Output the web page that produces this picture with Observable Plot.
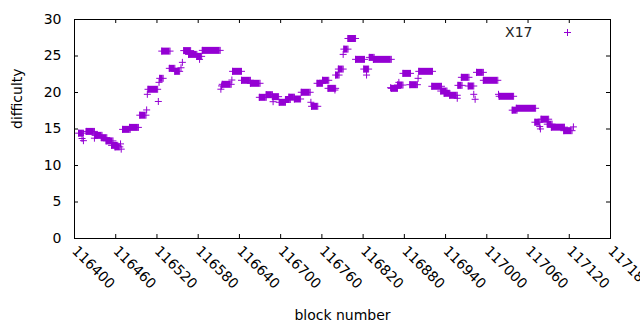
<!DOCTYPE html>
<html>
<head>
<meta charset="utf-8">
<script src="https://cdn.jsdelivr.net/npm/d3@7"></script>
<script src="https://cdn.jsdelivr.net/npm/@observablehq/plot@0.6"></script>
<style>
  html, body { margin: 0; padding: 0; background: #fff; }
  svg { display: block; }
</style>
</head>
<body>
<div id="chart"></div>
<script>
// Runs of constant difficulty (block range and value); singles have start == end
const runStart = [116406,116411,116413,116417,116429,116430,116439,116446,116454,116459,116467,116468,116470,116480,116495,116505,116506,116507,116522,116523,116524,116527,116538,116546,116555,116557,116559,116566,116578,116582,116586,116613,116614,116615,116629,116630,116643,116656,116669,116679,116688,116689,116698,116707,116712,116720,116730,116744,116745,116753,116761,116769,116779,116780,116784,116791,116792,116798,116809,116821,116825,116829,116835,116860,116861,116870,116872,116878,116888,116900,116901,116920,116933,116938,116946,116957,116958,116963,116973,116981,116983,116985,116995,117017,117018,117037,117043,117070,117077,117078,117079,117088,117094,117112,117126];
const runEnd   = [116413,116411,116413,116429,116429,116440,116447,116456,116463,116466,116467,116468,116481,116493,116504,116505,116506,116521,116522,116523,116529,116539,116546,116553,116555,116557,116569,116578,116585,116582,116612,116613,116614,116628,116629,116643,116656,116670,116679,116688,116697,116689,116707,116714,116720,116729,116743,116744,116754,116761,116770,116780,116779,116785,116791,116791,116798,116809,116822,116828,116825,116836,116861,116860,116870,116878,116872,116889,116899,116900,116921,116934,116942,116946,116957,116957,116964,116974,116981,116981,116983,116995,117016,117017,117039,117044,117071,117077,117077,117078,117090,117095,117113,117124,117126];
const runValue = [14.43,13.7,13.4,14.67,13.74,14.13,13.81,13.37,12.76,12.55,12.96,12.24,14.95,15.22,16.89,17.61,19.75,20.44,18.77,21.39,21.94,25.67,23.31,22.90,23.39,24.13,25.74,25.22,24.95,24.54,25.77,20.45,20.9,21.12,21.71,22.90,21.67,21.26,19.34,19.70,19.43,18.74,18.66,19.04,19.36,19.11,20.03,18.66,18.11,21.26,21.67,20.57,20.34,22.39,23.21,25.22,25.94,27.40,24.54,23.21,22.39,24.81,24.54,20.66,20.57,21.02,21.39,22.62,21.07,21.94,22.90,20.85,20.20,19.89,19.62,19.21,20.98,22.08,20.89,19.75,19.07,22.76,21.67,19.75,19.48,17.58,17.84,15.93,15.33,15.01,16.34,15.66,15.25,14.77,15.29];

const xTicks = [116400,116460,116520,116580,116640,116700,116760,116820,116880,116940,117000,117060,117120,117180];
const yTicks = [0,5,10,15,20,25,30];
const seriesName = "X17";

const purple = "#9400d3";
const W = 640, H = 330, ML = 74, MR = 30, MT = 19, MB = 92;
const PW = W - ML - MR, PH = H - MT - MB;
const TICK = 4;

const runs = runStart.map((s, i) => ({start: s, end: runEnd[i], value: runValue[i]}));
const longRuns = runs.filter(r => r.end > r.start);
const points = runs.flatMap(r => r.end > r.start
  ? [{block: r.start, value: r.value}, {block: r.end, value: r.value}]
  : [{block: r.start, value: r.value}]);

const plus = {
  draw(context, size) {
    const h = Math.sqrt(size / Math.PI);
    context.moveTo(-h, 0); context.lineTo(h, 0);
    context.moveTo(0, -h); context.lineTo(0, h);
  }
};

const font = "DejaVu Sans, sans-serif";

const chart = Plot.plot({
  width: W, height: H,
  marginLeft: ML, marginRight: MR, marginTop: MT, marginBottom: MB,
  style: {fontFamily: font, fontSize: "14px", color: "#000", background: "#fff"},
  x: {domain: [116400, 117180], axis: null},
  y: {domain: [0, 30], axis: null},
  marks: [
    // inward ticks on all four sides
    Plot.tickX(xTicks, {x: d => d, stroke: "black", insetTop: PH - TICK}),
    Plot.tickX(xTicks, {x: d => d, stroke: "black", insetBottom: PH - TICK}),
    Plot.tickY(yTicks, {y: d => d, stroke: "black", insetRight: PW - TICK}),
    Plot.tickY(yTicks, {y: d => d, stroke: "black", insetLeft: PW - TICK}),
    Plot.axisY({ticks: yTicks, tickSize: 0, tickPadding: 13, fontSize: 14, label: null, tickFormat: d => String(d)}),
    Plot.axisX({ticks: xTicks, tickSize: 0, tickPadding: 10, tickRotate: 45, textAnchor: "start", fontSize: 14, label: null, tickFormat: d => String(d)}),
    Plot.ruleY(longRuns, {x1: "start", x2: "end", y: "value", stroke: purple, strokeWidth: 7, strokeLinecap: "butt"}),
    Plot.dot(points, {x: "block", y: "value", symbol: plus, r: 3.5, stroke: purple, strokeWidth: 1, fill: "none"}),
    Plot.frame({stroke: "black"}),
    Plot.text(["block number"], {frameAnchor: "bottom", lineAnchor: "middle", dy: 77, fontSize: 14, fill: "black"}),
    Plot.text(["difficulty"], {frameAnchor: "left", lineAnchor: "middle", dx: -57, rotate: -90, fontSize: 14, fill: "black"}),
    Plot.text([seriesName], {frameAnchor: "top-right", lineAnchor: "middle", dx: -78, dy: 13, textAnchor: "end", fontSize: 14, fill: "#222"}),
    Plot.dot([0], {frameAnchor: "top-right", dx: -43, dy: 13, symbol: plus, r: 3.5, stroke: purple, strokeWidth: 1, fill: "none"})
  ]
});
document.getElementById("chart").appendChild(chart);
</script>
</body>
</html>
